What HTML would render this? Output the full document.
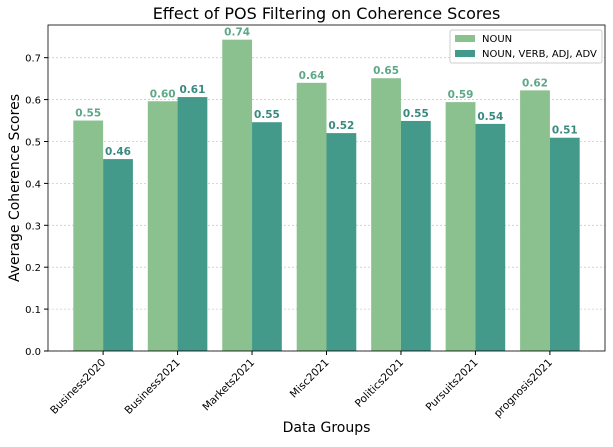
<!DOCTYPE html>
<html><head><meta charset="utf-8"><style>
body{margin:0;background:#fff;font-family:"Liberation Sans","DejaVu Sans",sans-serif}
svg text{font-family:"DejaVu Sans","Liberation Sans",sans-serif}
</style></head><body>
<svg id="c" width="613" height="442" xmlns="http://www.w3.org/2000/svg"></svg>
<script>
const categories=["Business2020","Business2021","Markets2021","Misc2021","Politics2021","Pursuits2021","prognosis2021"];
const nounValues=[0.550,0.596,0.743,0.640,0.651,0.594,0.622];
const allPosValues=[0.458,0.606,0.546,0.520,0.549,0.542,0.509];
const yTicks=[0,0.1,0.2,0.3,0.4,0.5,0.6,0.7];
const seriesNames=["NOUN","NOUN, VERB, ADJ, ADV"];
const svg=document.getElementById('c');const NS="http://www.w3.org/2000/svg";
const L=48,R=605,T=25,B=351,ymax=0.778;
const xmin=-0.74,xmax=6.74;
const x=v=>L+(v-xmin)/(xmax-xmin)*(R-L);
const y=v=>B-v/ymax*(B-T);
function add(tag,attrs,parent,text){const e=document.createElementNS(NS,tag);for(const k in attrs)e.setAttribute(k,attrs[k]);if(text!==undefined)e.textContent=text;(parent||svg).appendChild(e);return e;}
const grid=add('g',{});
yTicks.forEach(t=>{
 const gl=add('line',{x1:L,x2:R,y1:y(t),y2:y(t),stroke:'#ccc','stroke-dasharray':'2,2','stroke-width':0.8},grid);
 
 add('line',{x1:L-4,x2:L,y1:y(t),y2:y(t),stroke:'#000'});
 const tl=add('text',{x:L-7,y:y(t)+4,'font-size':10,'text-anchor':'end'},null,t.toFixed(1));
 
});
const w=0.4;
const colors=['#8bc08f','#439a8a'],lcol=['#5fa887','#3a8a80'];
[nounValues,allPosValues].forEach((vals,s)=>{
 vals.forEach((v,i)=>{
  const cx=i+(s===0?-w/2:w/2);
  const r=add('rect',{x:x(cx-w/2),y:y(v),width:x(cx+w/2)-x(cx-w/2),height:y(0)-y(v),fill:colors[s]});
  
  
  const t=add('text',{x:x(cx),y:y(v)-4,'font-size':10.5,'font-weight':'bold','text-anchor':'middle',fill:lcol[s]},null,v.toFixed(2));
  
 });
});
categories.forEach((c,i)=>{
 add('line',{x1:x(i),x2:x(i),y1:B,y2:B+4,stroke:'#000'});
 const t=add('text',{x:0,y:0,'font-size':10.5,'text-anchor':'end',transform:`translate(${x(i)+3},${B+12}) rotate(-45)`},null,c);
 
});
const fr=add('rect',{x:L,y:T,width:R-L,height:B-T,fill:'none',stroke:'#000','stroke-width':0.8});

let e=add('text',{x:(L+R)/2,y:19,'font-size':16,'text-anchor':'middle'},null,'Effect of POS Filtering on Coherence Scores');

e=add('text',{x:(L+R)/2,y:432,'font-size':14,'text-anchor':'middle'},null,'Data Groups');

e=add('text',{x:0,y:0,'font-size':14,'text-anchor':'middle',transform:`translate(19,${(T+B)/2}) rotate(-90)`},null,'Average Coherence Scores');

const lg=add('g',{});
add('rect',{x:450,y:30,width:152,height:33,fill:'#fff','fill-opacity':0.8,stroke:'#ccc',rx:2},lg);
seriesNames.forEach((n,s)=>{
 const en=add('g',{},lg);
 add('rect',{x:455,y:35+s*15,width:20,height:7,fill:colors[s]},en);
 add('text',{x:482,y:42+s*15,'font-size':10},en,n);
});
</script></body></html>
